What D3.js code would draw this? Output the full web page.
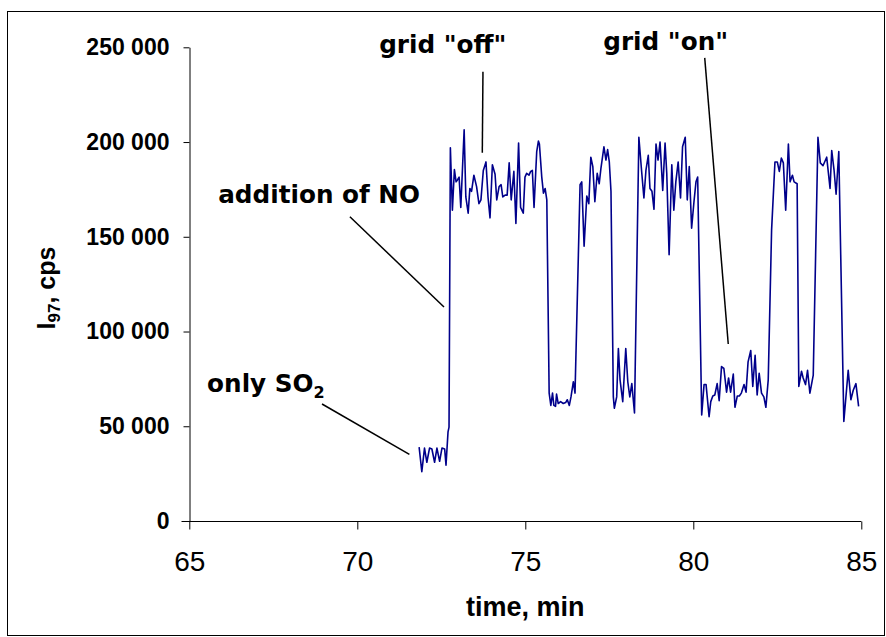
<!DOCTYPE html>
<html>
<head>
<meta charset="utf-8">
<script src="https://cdn.jsdelivr.net/npm/d3@7"></script>
<style>
  body { margin: 0; background: #fff; }
  svg { display: block; }
</style>
</head>
<body>
<svg id="chart"></svg>
<script>
// time (min) and I97 signal (cps)
const times = [
  71.84, 71.92, 72.00, 72.07, 72.15, 72.22, 72.30, 72.37, 72.45, 72.52, 72.60, 72.64, 72.70, 72.73,
  72.77, 72.83, 72.89, 72.94, 72.98, 73.03, 73.08, 73.18, 73.23, 73.30, 73.35, 73.40, 73.47, 73.55,
  73.62, 73.68, 73.75, 73.83, 73.89, 73.95, 74.02, 74.10, 74.15, 74.22, 74.28, 74.33, 74.40, 74.46,
  74.52, 74.58, 74.66, 74.72, 74.80, 74.86, 74.94, 74.99, 75.04, 75.11, 75.16, 75.21, 75.26, 75.34,
  75.39, 75.42, 75.49, 75.54, 75.59, 75.64, 75.71, 75.76, 75.81, 75.85, 75.90, 75.93, 75.98, 76.05,
  76.13, 76.20, 76.25, 76.31, 76.36, 76.43, 76.48, 76.63, 76.68, 76.75, 76.83, 76.89, 76.95, 77.01,
  77.07, 77.14, 77.20, 77.25, 77.34, 77.40, 77.45, 77.50, 77.55, 77.62, 77.65, 77.72, 77.77, 77.82,
  77.90, 77.99, 78.05, 78.11, 78.17, 78.25, 78.38, 78.46, 78.53, 78.59, 78.66, 78.71, 78.77, 78.83,
  78.89, 78.95, 79.01, 79.09, 79.16, 79.21, 79.28, 79.36, 79.42, 79.48, 79.55, 79.62, 79.68, 79.76,
  79.82, 79.88, 79.95, 80.02, 80.08, 80.13, 80.25, 80.32, 80.38, 80.47, 80.52, 80.58, 80.64, 80.71,
  80.77, 80.84, 80.91, 80.99, 81.05, 81.11, 81.19, 81.24, 81.31, 81.37, 81.43, 81.51, 81.57, 81.63,
  81.71, 81.77, 81.84, 81.90, 81.96, 82.03, 82.10, 82.16, 82.23, 82.33, 82.43, 82.50, 82.56, 82.62,
  82.68, 82.75, 82.83, 82.88, 82.95, 83.00, 83.09, 83.14, 83.22, 83.27, 83.34, 83.40, 83.47, 83.57,
  83.71, 83.78, 83.86, 83.97, 84.07, 84.12, 84.19, 84.25, 84.33, 84.48, 84.61, 84.69, 84.76, 84.84,
  84.92
];
const counts = [
  39000, 26000, 38500, 31000, 38500, 38000, 31000, 38500, 31500, 38500, 38000, 29500, 47000, 49500,
  197000, 164000, 185500, 179000, 180000, 181500, 165500, 206500, 171000, 162500, 175500, 174000, 182500, 176500,
  167500, 169500, 185000, 189500, 171000, 160000, 188000, 183000, 169500, 176500, 177500, 171000, 172000, 172000,
  189000, 169500, 184500, 157000, 199500, 165500, 162500, 181500, 183500, 182500, 184500, 185000, 165500, 195000,
  200500, 199000, 181500, 173000, 175500, 169500, 67500, 61000, 67500, 61000, 60500, 67000, 62000, 63000,
  62000, 62500, 64000, 61000, 65500, 73500, 67500, 177500, 179000, 145000, 171500, 167500, 192000, 187000,
  168500, 183500, 178000, 186000, 197500, 190500, 196000, 189500, 174000, 65500, 59500, 65500, 91000, 74500,
  63000, 91000, 73500, 65500, 72500, 57000, 202500, 185000, 170500, 185000, 193000, 175500, 174000, 164500,
  199000, 190500, 200000, 174500, 199500, 183500, 140500, 188000, 164000, 179000, 189500, 170500, 197500, 202500,
  169500, 187000, 154500, 168500, 179000, 181500, 56000, 72000, 72000, 55000, 63000, 66000, 66500, 72500,
  63500, 81500, 80500, 68000, 75500, 68000, 77500, 60000, 66000, 66000, 67500, 72000, 68000, 84000,
  90000, 71000, 87500, 66500, 78000, 67500, 65500, 60000, 74500, 153500, 189500, 189500, 184500, 191500,
  189000, 164000, 199000, 179000, 182500, 179000, 178000, 71000, 79000, 75500, 72000, 79500, 67500, 77000,
  202500, 189000, 187500, 192000, 175500, 195500, 185000, 172500, 195000, 52500, 79500, 64000, 69000, 72500,
  60500
];

const xTicks = [65, 70, 75, 80, 85];
const yTicks = [0, 50000, 100000, 150000, 200000, 250000];

const width = 886, height = 637;
const svg = d3.select("#chart").attr("width", width).attr("height", height);

// outer frame
svg.append("rect")
  .attr("x", 7.5).attr("y", 11.5)
  .attr("width", 877).attr("height", 624)
  .attr("fill", "none").attr("stroke", "#000").attr("stroke-width", 1);

const x = d3.scaleLinear().domain([65, 85]).range([189.3, 861.3]);
const y = d3.scaleLinear().domain([0, 250000]).range([521, 47.3]);

const fmt = v => d3.format(",")(v).replace(/,/g, " ");

const yAxis = svg.append("g")
  .attr("transform", "translate(189.5,0)")
  .call(d3.axisLeft(y).tickValues(yTicks).tickSize(6).tickSizeOuter(0).tickPadding(14).tickFormat(fmt));
yAxis.selectAll("text")
  .attr("font-family", "'Liberation Sans', Arial, sans-serif")
  .attr("font-weight", "bold").attr("font-size", 23).attr("fill", "#000");

const xAxis = svg.append("g")
  .attr("transform", "translate(0,521.5)")
  .call(d3.axisBottom(x).tickValues(xTicks).tickSize(8).tickSizeOuter(0).tickPadding(22));
xAxis.selectAll("text")
  .attr("font-family", "'Liberation Sans', Arial, sans-serif")
  .attr("font-size", 28).attr("fill", "#000");

svg.selectAll(".domain, .tick line").attr("stroke", "#000").attr("stroke-width", 1);
xAxis.select(".domain").attr("d", "M181.5,0H" + x(85));

// data line
const line = d3.line().x((d, i) => x(times[i])).y(d => y(d));
svg.append("path")
  .datum(counts)
  .attr("d", line)
  .attr("fill", "none")
  .attr("stroke", "#00008b")
  .attr("stroke-width", 1.6)
  .attr("stroke-linejoin", "round");

// axis titles
svg.append("text")
  .attr("x", x(75)).attr("y", 616)
  .attr("text-anchor", "middle")
  .attr("font-family", "'Liberation Sans', Arial, sans-serif")
  .attr("font-weight", "bold").attr("font-size", 27)
  .text("time, min");

const yt = svg.append("text")
  .attr("transform", "translate(55," + 288 + ") rotate(-90)")
  .attr("text-anchor", "middle")
  .attr("font-family", "'Liberation Sans', Arial, sans-serif")
  .attr("font-weight", "bold").attr("font-size", 25);
yt.append("tspan").text("I");
yt.append("tspan").attr("font-size", 17).attr("dy", 5).text("97");
yt.append("tspan").attr("dy", -5).text(", cps");

// annotations: label, text position, leader from / to, all in data units
const annoFont = "'DejaVu Sans', Verdana, sans-serif";
const annotations = [
  { label: "grid \"off\"", tx: 70.65, ty: 246800, from: [73.74, 237100], to: [73.72, 194400] },
  { label: "grid \"on\"", tx: 77.32, ty: 248600, from: [80.34, 244400], to: [81.04, 93400] },
  { label: "addition of NO", tx: 65.86, ty: 167700, from: [69.78, 160600], to: [72.58, 112900] },
  { label: "only SO", sub: "2", tx: 65.53, ty: 68100, from: [68.95, 61750], to: [71.55, 35200] }
];

annotations.forEach(a => {
  const t = svg.append("text")
    .attr("x", x(a.tx)).attr("y", y(a.ty))
    .attr("font-family", annoFont)
    .attr("font-weight", "bold").attr("font-size", 24.7);
  t.append("tspan").text(a.label);
  if (a.sub) t.append("tspan").attr("font-size", 16).attr("dy", 6).text(a.sub);
  svg.append("line")
    .attr("x1", x(a.from[0])).attr("y1", y(a.from[1]))
    .attr("x2", x(a.to[0])).attr("y2", y(a.to[1]))
    .attr("stroke", "#000").attr("stroke-width", 1.5);
});
</script>
</body>
</html>
